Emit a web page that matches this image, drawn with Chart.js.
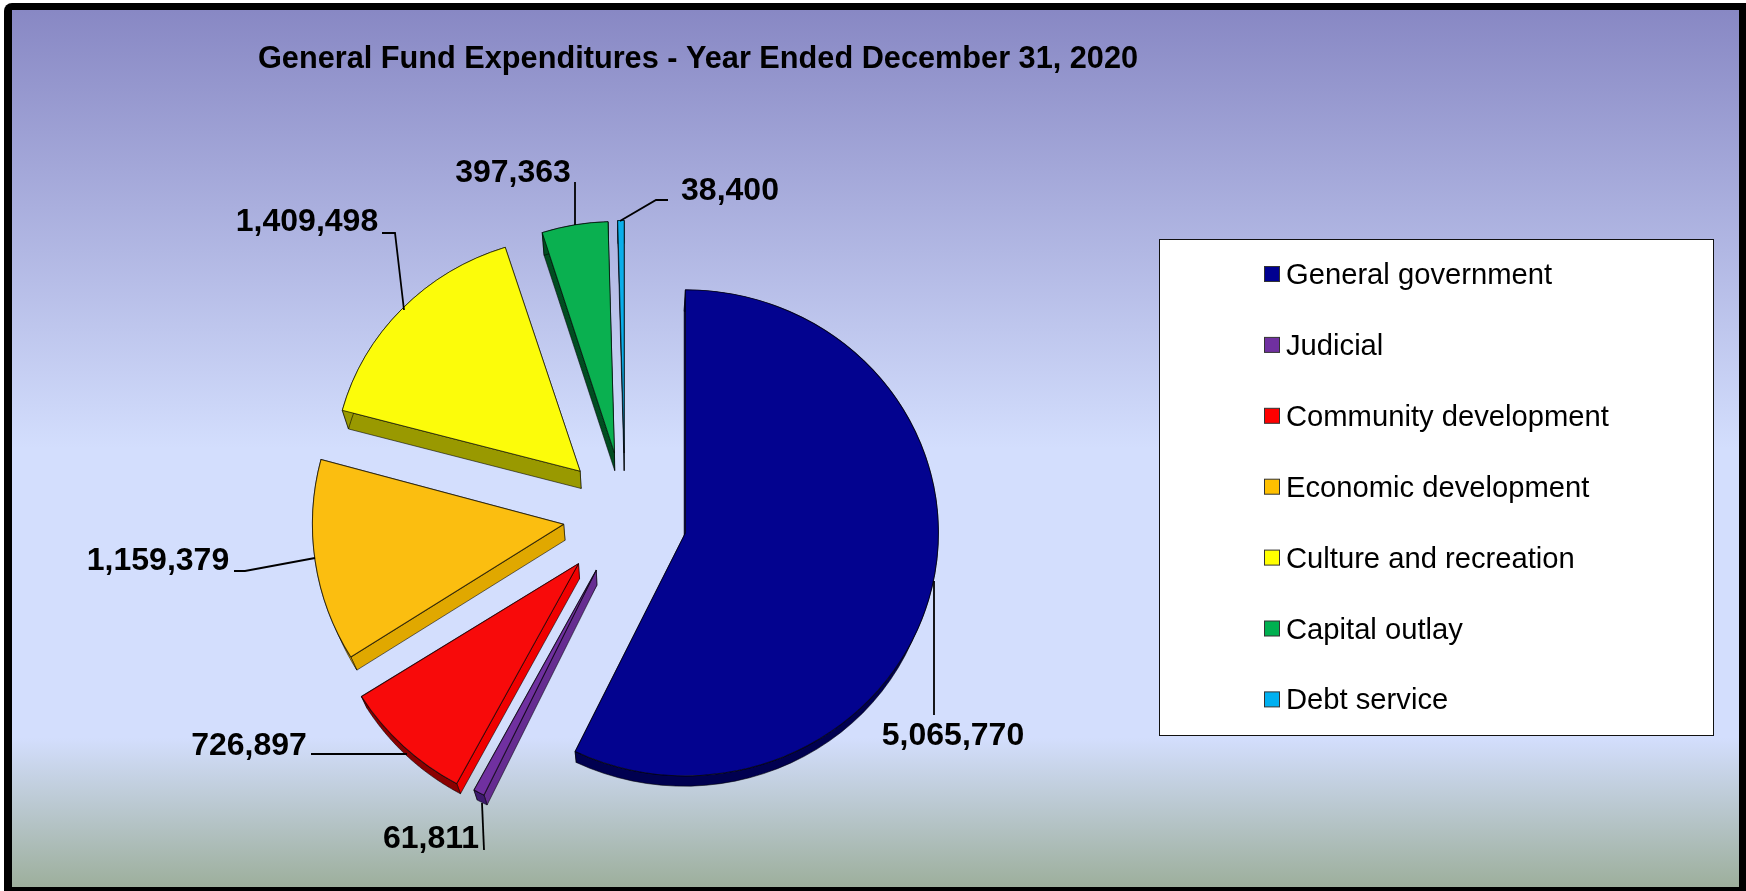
<!DOCTYPE html>
<html>
<head>
<meta charset="utf-8">
<title>General Fund Expenditures</title>
<script src="https://cdn.jsdelivr.net/npm/chart.js@4"></script>
<style>
html, body { margin: 0; padding: 0; background: #fff; overflow: hidden; }
#wrap { position: relative; width: 1746px; height: 891px; }
</style>
</head>
<body>
<div id="wrap"><canvas id="pieChart" width="1746" height="891"></canvas></div>
<script>
const chartTitle = 'General Fund Expenditures - Year Ended December 31, 2020';
const categories = ['General government', 'Judicial', 'Community development', 'Economic development',
    'Culture and recreation', 'Capital outlay', 'Debt service'];
const amounts = [5065770, 61811, 726897, 1159379, 1409498, 397363, 38400];

// slice look
const faceColors = ['#03038F', '#7030A0', '#F80A0A', '#FBBE10', '#FCFC0A', '#0AB050', '#0AAEEA'];
const legendColors = ['#000090', '#7030A0', '#FF0000', '#FFC000', '#FFFF00', '#00B050', '#00B0F0'];
const edgeColors = ['#000050', '#662D91', '#F00000', '#E0A800', '#999900', '#004D20', '#004060'];
const rimColors = ['#000050', '#3E1A6E', '#8B0000', '#E0A800', '#999900', '#004D20', '#004060'];
const explode = [62, 63, 68, 62, 62, 63, 61];
const nudgeY = [5, 0, 0, 1, 0, 1, 0];
const scaleX = [1.012, 1.03, 1.025, 1.005, 0.985, 0.95, 0.95];
const scaleY = [0.972, 1, 1, 1, 0.94, 0.925, 0.93];
const baseRadius = 250;

// value label placement: text centre, then the leader line
const labelAt = [[953, 736], [431, 839], [249, 746], [158, 561], [307, 222], [513, 173], [730, 191]];
const leaders = [
    [[934, 581], [934, 715]],
    [[482, 803], [484, 850]],
    [[311, 754], [407, 754]],
    [[234, 571], [245, 571], [315, 558]],
    [[382, 233], [395, 233], [404, 310]],
    [[575, 182], [575, 225]],
    [[668, 200], [656, 200], [620, 221]]
];

function depthAt(y) {
    return 23 - (y - 221) * 0.0228;
}

const backdrop = {
    id: 'backdrop',
    beforeDraw(chart) {
        const ctx = chart.ctx;
        ctx.save();
        ctx.fillStyle = '#fff';
        ctx.fillRect(0, 0, 1746, 891);
        ctx.fillStyle = '#000';
        ctx.beginPath();
        ctx.roundRect(4, 3, 1750, 900, 8);
        ctx.fill();
        const g = ctx.createLinearGradient(0, 10, 0, 887);
        g.addColorStop(0, '#8888C4');
        g.addColorStop(0.5, '#D3DEFD');
        g.addColorStop(0.83, '#D3DEFD');
        g.addColorStop(1, '#9DAF9C');
        ctx.fillStyle = g;
        ctx.fillRect(12, 10, 1727, 877);

        ctx.fillStyle = '#000';
        ctx.font = 'bold 30.7px "Liberation Sans"';
        ctx.textBaseline = 'middle';
        ctx.fillText(chartTitle, 258, 60);
        ctx.restore();
    }
};

// draws each arc exploded, with its side faces under it
const exploded = {
    id: 'exploded',
    beforeDatasetDraw(chart, args) {
        const ctx = chart.ctx;
        args.meta.data.forEach((arc, i) => {
            const mid = (arc.startAngle + arc.endAngle) / 2;
            const ox = arc.x + Math.cos(mid) * explode[i];
            const oy = arc.y + Math.sin(mid) * explode[i] + nudgeY[i];
            const rim = a => [ox + arc.outerRadius * scaleX[i] * Math.cos(a), oy + arc.outerRadius * scaleY[i] * Math.sin(a)];
            const low = p => [p[0] + (arc.x - p[0]) * 0.022, p[1] + depthAt(p[1])];
            const poly = (pts, color) => {
                ctx.beginPath();
                pts.forEach((p, k) => k ? ctx.lineTo(p[0], p[1]) : ctx.moveTo(p[0], p[1]));
                ctx.closePath();
                ctx.fillStyle = color;
                ctx.strokeStyle = 'rgba(0,0,0,0.7)';
                ctx.lineWidth = 0.8;
                ctx.fill();
                ctx.stroke();
            };
            const tip = [ox, oy];
            // the edge that shows goes last
            const edges = i === 0 ? [arc.startAngle, arc.endAngle] : [arc.endAngle, arc.startAngle];
            edges.forEach(a => {
                const p = rim(a);
                poly([tip, p, low(p), low(tip)], edgeColors[i]);
            });
            const top = [], bottom = [];
            for (let k = 0; k <= 60; k++) {
                const p = rim(arc.startAngle + (arc.endAngle - arc.startAngle) * k / 60);
                top.push(p);
                bottom.unshift(low(p));
            }
            poly(top.concat(bottom), rimColors[i]);

            ctx.save();
            ctx.translate(ox, oy);
            ctx.scale(scaleX[i], scaleY[i]);
            ctx.translate(-arc.x, -arc.y);
            arc.draw(ctx, chart.chartArea);
            ctx.restore();
        });
        return false;
    }
};

const valueLabels = {
    id: 'valueLabels',
    afterDatasetsDraw(chart) {
        const ctx = chart.ctx;
        ctx.save();
        ctx.strokeStyle = '#000';
        ctx.lineWidth = 1.8;
        leaders.forEach(line => {
            ctx.beginPath();
            line.forEach((p, k) => k ? ctx.lineTo(p[0], p[1]) : ctx.moveTo(p[0], p[1]));
            ctx.stroke();
        });
        ctx.fillStyle = '#000';
        ctx.font = 'bold 32px "Liberation Sans"';
        ctx.textAlign = 'center';
        ctx.textBaseline = 'middle';
        amounts.forEach((v, i) => {
            ctx.fillText(v.toLocaleString('en-US'), labelAt[i][0], labelAt[i][1]);
        });
        ctx.restore();
    }
};

const legendBox = {
    id: 'legendBox',
    afterDraw(chart) {
        const ctx = chart.ctx;
        ctx.save();
        ctx.fillStyle = '#fff';
        ctx.strokeStyle = '#111';
        ctx.lineWidth = 1;
        ctx.fillRect(1159.5, 239.5, 554, 496);
        ctx.strokeRect(1159.5, 239.5, 554, 496);
        ctx.font = '29.2px "Liberation Sans"';
        ctx.textBaseline = 'middle';
        categories.forEach((name, i) => {
            const y = 274 + i * 70.9;
            ctx.fillStyle = legendColors[i];
            ctx.fillRect(1264.5, y - 7.5, 15, 15);
            ctx.strokeStyle = '#333';
            ctx.strokeRect(1264.5, y - 7.5, 15, 15);
            ctx.fillStyle = '#000';
            ctx.fillText(name, 1286, y + 2);
        });
        ctx.restore();
    }
};

new Chart(document.getElementById('pieChart').getContext('2d'), {
    type: 'pie',
    data: {
        labels: categories,
        datasets: [{
            data: amounts,
            backgroundColor: faceColors,
            borderColor: 'rgba(0,0,0,0.7)',
            borderWidth: 1,
            radius: baseRadius
        }]
    },
    options: {
        responsive: false,
        animation: false,
        layout: { padding: { left: 0, right: 496, top: 137, bottom: 0 } },
        plugins: {
            legend: { display: false },
            title: { display: false },
            tooltip: { enabled: false }
        }
    },
    plugins: [backdrop, exploded, valueLabels, legendBox]
});
</script>
</body>
</html>
